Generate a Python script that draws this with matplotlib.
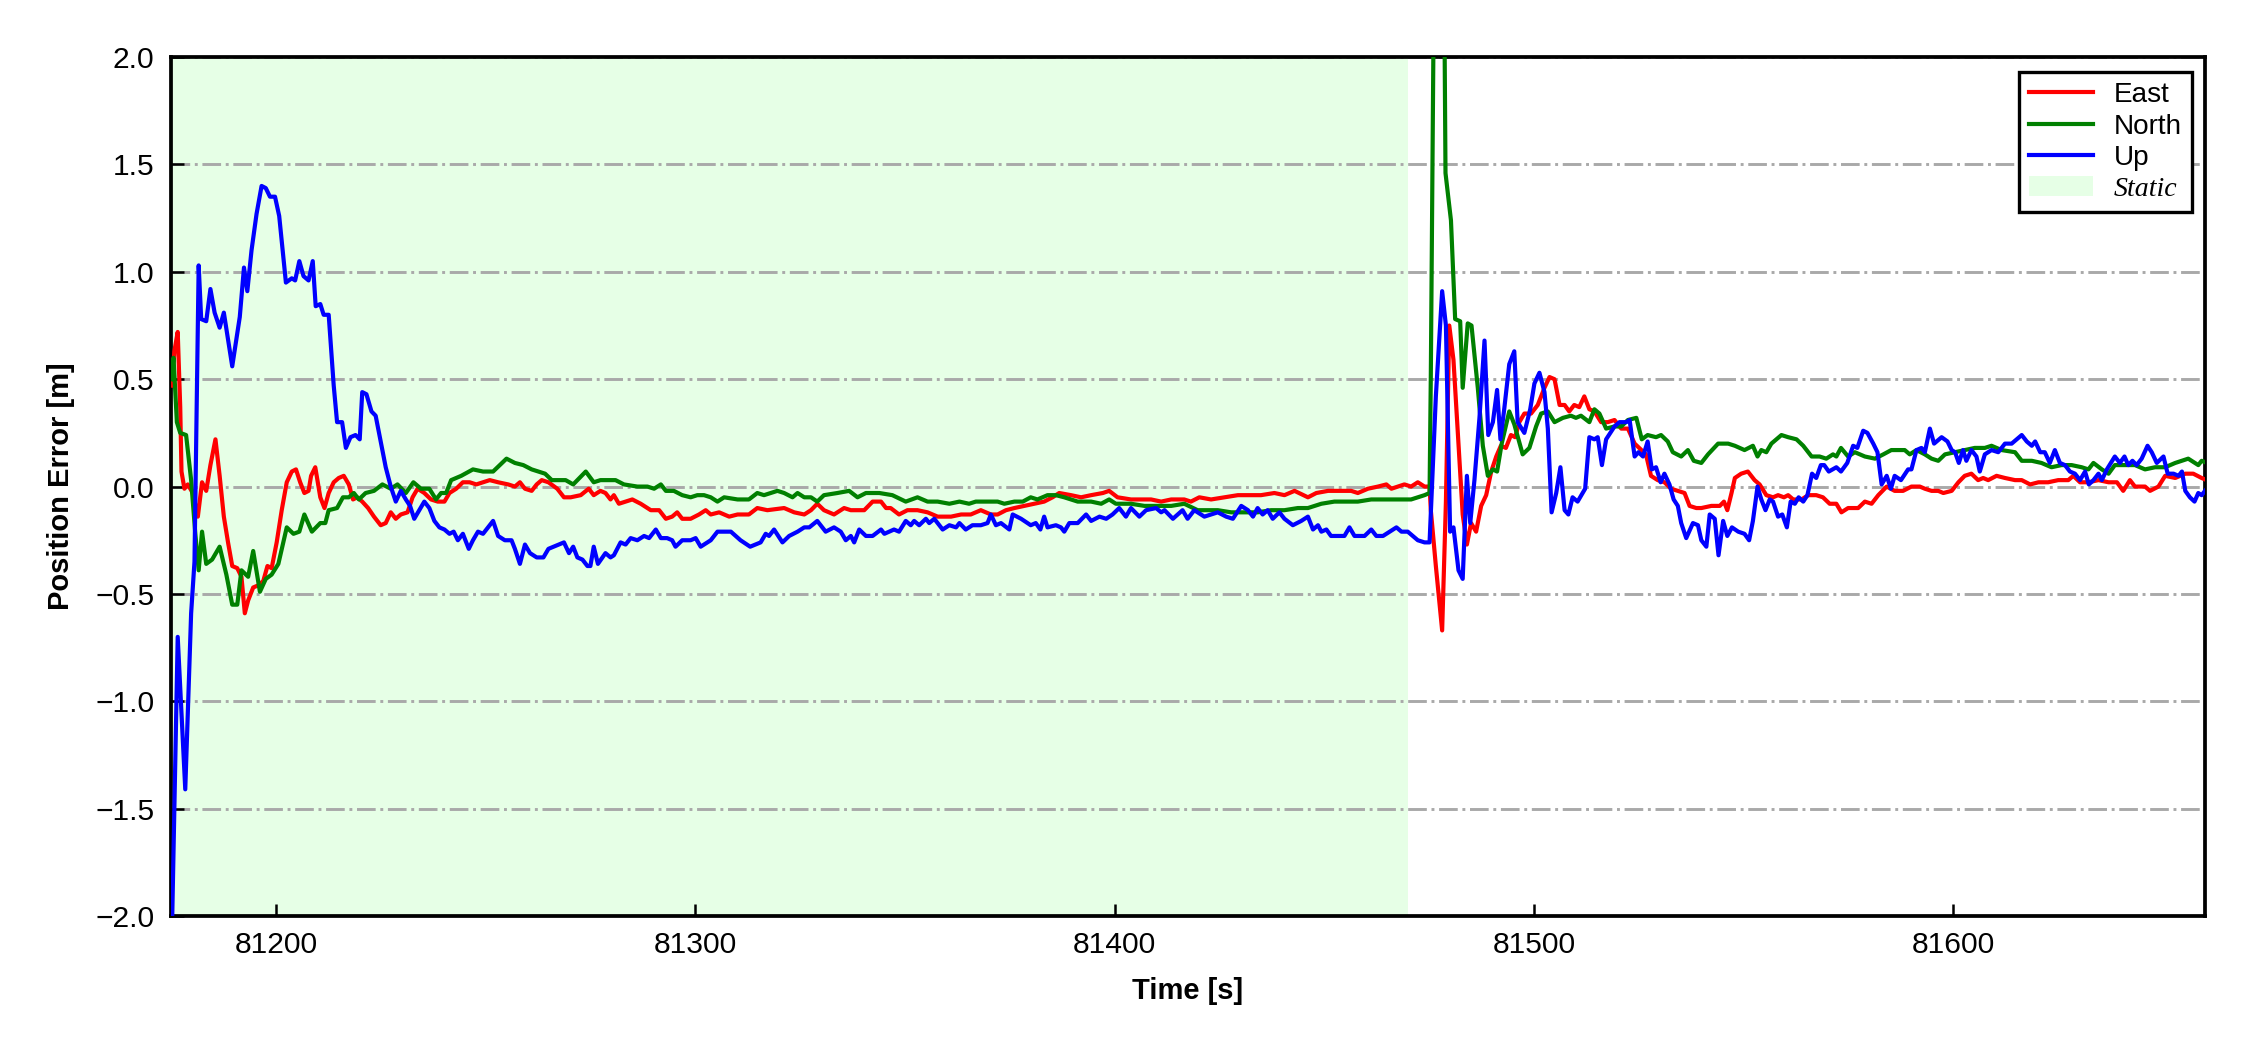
import matplotlib
matplotlib.use("Agg")
import matplotlib.pyplot as plt
from matplotlib.patches import Patch
from matplotlib.lines import Line2D

plt.rcParams['font.family'] = ['Liberation Sans', 'DejaVu Sans']

static_span = [81175.0, 81470.0]
x_limits = [81175, 81660]
y_limits = [-2.0, 2.0]
x_ticks = [81200, 81300, 81400, 81500, 81600]
y_ticks = [-2.0, -1.5, -1.0, -0.5, 0.0, 0.5, 1.0, 1.5, 2.0]

east_t = [81175.2, 81175.8, 81176.6, 81177.2, 81177.5, 81178.2, 81179.0, 81180.2, 81181.4, 81182.4,
          81183.4, 81184.4, 81185.6, 81186.6, 81187.6, 81188.6, 81189.6, 81190.8, 81191.8, 81192.6,
          81193.4, 81194.6, 81195.8, 81197.0, 81198.0, 81199.0, 81200.2, 81201.4, 81202.6, 81203.8,
          81204.8, 81205.8, 81206.8, 81207.8, 81208.4, 81209.4, 81210.6, 81211.6, 81212.6, 81213.8,
          81215.0, 81216.2, 81217.4, 81218.4, 81219.4, 81220.6, 81222.0, 81223.4, 81225.0, 81226.2,
          81227.4, 81228.6, 81229.8, 81231.4, 81232.6, 81233.8, 81235.4, 81237.0, 81238.6, 81240.2,
          81241.4, 81243.0, 81244.6, 81246.2, 81247.8, 81249.4, 81251.0, 81253.0, 81255.4, 81257.0,
          81258.2, 81259.4, 81261.0, 81262.2, 81263.4, 81265.0, 81267.1,
          81268.7, 81270.3, 81272.7, 81274.6, 81275.8, 81277.4, 81278.6, 81279.8, 81280.6, 81281.8,
          81283.4, 81285.0, 81287.0, 81289.4, 81291.4, 81293.0, 81294.5, 81295.7, 81296.9, 81298.9,
          81300.9, 81302.5, 81303.7, 81305.7, 81308.1, 81310.1, 81312.8, 81314.8, 81317.2, 81321.2,
          81323.6, 81326.0, 81327.6, 81329.1, 81330.7, 81333.1, 81335.5, 81337.1, 81340.3, 81342.3,
          81344.3, 81345.5, 81346.6, 81348.6, 81350.6, 81353.0, 81355.4, 81357.8, 81361.0, 81363.4,
          81365.7, 81368.1, 81370.5,
          81372.1, 81374.1, 81376.1, 81378.5, 81380.8, 81383.2, 81385.2, 81386.8, 81389.6, 81392.0,
          81394.4, 81397.2, 81398.7, 81400.7, 81403.9, 81406.3, 81408.7, 81411.1, 81413.5, 81416.6,
          81418.2, 81420.2, 81423.0, 81426.2, 81429.4, 81432.2, 81434.9, 81438.1, 81440.5, 81442.9,
          81446.1, 81448.1, 81450.9, 81454.0, 81456.4, 81458.0, 81460.4, 81462.8, 81464.8, 81466.0,
          81469.1, 81470.7, 81472.3, 81473.9, 81475.1,
          81475.4, 81476.6, 81478.1, 81479.0, 81479.8, 81480.8, 81482.0, 81483.0, 81484.0, 81485.0,
          81486.2, 81487.4, 81488.6, 81489.8, 81491.0, 81492.1, 81493.3, 81494.5, 81495.5, 81496.5,
          81497.7, 81499.3, 81500.9, 81502.5, 81503.7, 81504.9, 81506.1, 81507.3, 81508.4, 81509.6,
          81510.8, 81512.0, 81513.2, 81514.4, 81516.0, 81517.6, 81519.2, 81520.8, 81522.4, 81524.0,
          81525.6, 81526.7, 81527.9, 81529.5, 81531.1, 81532.7, 81534.3, 81535.9, 81537.1, 81538.7,
          81539.9, 81542.3, 81544.3, 81545.3, 81546.1, 81547.1, 81547.9, 81549.4, 81551.0, 81552.6,
          81553.8, 81555.4, 81557.0, 81558.2, 81559.6, 81560.6, 81561.8, 81563.8, 81565.4, 81567.3,
          81568.9, 81570.5, 81572.1, 81573.3, 81574.9, 81577.3, 81578.9, 81580.5, 81582.1, 81584.1,
          81586.0, 81588.0, 81590.0, 81592.0, 81593.2, 81594.8, 81596.4, 81597.6, 81599.6, 81601.2,
          81602.7, 81604.3, 81605.9, 81607.1, 81608.3, 81610.3, 81612.3, 81614.7, 81616.3, 81618.3,
          81620.3, 81622.6, 81625.0, 81627.4, 81628.6, 81630.2, 81632.2, 81634.6, 81637.0, 81639.0,
          81640.5, 81642.1, 81643.3, 81645.7, 81646.9, 81648.9, 81650.5, 81652.9, 81655.3, 81657.2,
          81659.2, 81660.4]
east_v = [0.47, 0.63, 0.72, 0.37, 0.07, -0.01, 0.01, -0.03, -0.14, 0.02,
          -0.02, 0.10, 0.22, 0.05, -0.14, -0.26, -0.37, -0.38, -0.42, -0.59,
          -0.53, -0.47, -0.46, -0.44, -0.37, -0.38, -0.26, -0.11, 0.02, 0.07,
          0.08, 0.02, -0.03, -0.02, 0.05, 0.09, -0.05, -0.10, -0.03, 0.02,
          0.04, 0.05, 0.01, -0.06, -0.05, -0.07, -0.10, -0.14, -0.18, -0.17,
          -0.12, -0.15, -0.13, -0.12, -0.05, -0.01, -0.03, -0.06, -0.07, -0.07,
          -0.03, -0.01, 0.02, 0.02, 0.01, 0.02, 0.03, 0.02, 0.01, 0.00,
          0.02, -0.01, -0.02, 0.01, 0.03, 0.02, -0.01,
          -0.05, -0.05, -0.04, -0.01, -0.04, -0.02, -0.03, -0.06, -0.04, -0.08,
          -0.07, -0.06, -0.08, -0.11, -0.11, -0.15, -0.14, -0.12, -0.15, -0.15,
          -0.13, -0.11, -0.13, -0.12, -0.14, -0.13, -0.13, -0.10, -0.11, -0.10,
          -0.12, -0.13, -0.11, -0.08, -0.11, -0.13, -0.10, -0.11, -0.11, -0.07,
          -0.07, -0.10, -0.10, -0.13, -0.11, -0.11, -0.12, -0.14, -0.14, -0.13,
          -0.13, -0.11, -0.13,
          -0.13, -0.11, -0.10, -0.09, -0.08, -0.07, -0.05, -0.03, -0.04, -0.05,
          -0.04, -0.03, -0.02, -0.05, -0.06, -0.06, -0.06, -0.07, -0.06, -0.06,
          -0.07, -0.05, -0.06, -0.05, -0.04, -0.04, -0.04, -0.03, -0.04, -0.02,
          -0.05, -0.03, -0.02, -0.02, -0.02, -0.03, -0.01, 0.00, 0.01, -0.01,
          0.01, 0.00, 0.02, 0.00, 0.00,
          -0.11, -0.37, -0.67, -0.07, 0.75, 0.59, 0.20, -0.13, -0.27, -0.17,
          -0.21, -0.09, -0.04, 0.07, 0.14, 0.19, 0.18, 0.24, 0.23, 0.30,
          0.34, 0.34, 0.38, 0.46, 0.51, 0.50, 0.38, 0.38, 0.35, 0.38,
          0.37, 0.42, 0.36, 0.35, 0.30, 0.30, 0.31, 0.27, 0.27, 0.20,
          0.17, 0.15, 0.05, 0.03, 0.02, -0.01, -0.02, -0.03, -0.09, -0.10,
          -0.10, -0.09, -0.09, -0.07, -0.11, -0.03, 0.04, 0.06, 0.07, 0.03,
          0.01, -0.04, -0.05, -0.04, -0.05, -0.04, -0.06, -0.06, -0.04, -0.04,
          -0.05, -0.08, -0.08, -0.12, -0.10, -0.10, -0.07, -0.08, -0.04, 0.00,
          -0.02, -0.02, 0.00, 0.00, -0.01, -0.02, -0.02, -0.03, -0.02, 0.02,
          0.05, 0.06, 0.03, 0.04, 0.03, 0.05, 0.04, 0.03, 0.03, 0.01,
          0.02, 0.02, 0.03, 0.03, 0.05, 0.02, 0.02, 0.03, 0.02, 0.02,
          -0.02, 0.03, 0.00, 0.00, -0.02, 0.00, 0.05, 0.04, 0.06, 0.06,
          0.04, 0.03]

north_t = [81175.0, 81175.6, 81176.4, 81177.2, 81178.6, 81179.8, 81180.8, 81181.6, 81182.4, 81183.4,
           81184.8, 81186.6, 81188.2, 81189.6, 81190.8, 81191.8, 81193.4, 81194.6, 81196.2, 81197.6,
           81199.0, 81200.6, 81202.6, 81204.2, 81205.6, 81206.8, 81208.6, 81210.6, 81211.8, 81212.6,
           81214.6, 81216.0, 81217.4, 81218.6, 81219.8, 81221.4, 81223.4, 81225.4, 81227.4, 81229.0,
           81231.0, 81232.8, 81234.6, 81236.6, 81238.2, 81239.4, 81240.6, 81241.8, 81244.2, 81247.0,
           81249.4, 81251.8, 81253.4, 81255.0, 81257.0, 81259.0, 81261.0, 81262.6, 81264.2, 81265.8,
           81269.1, 81270.9, 81273.9, 81275.8, 81277.4, 81279.4, 81281.0, 81283.0, 81286.2, 81288.6,
           81290.2, 81291.8, 81293.0, 81294.9, 81296.9, 81298.9, 81300.5, 81302.1, 81303.7, 81305.3,
           81306.9, 81310.1, 81312.8, 81314.8, 81316.4, 81319.6, 81321.2, 81323.2, 81324.4, 81326.0,
           81327.6, 81329.1, 81330.7, 81333.9, 81336.7, 81338.7, 81340.7, 81343.9, 81347.0, 81350.2,
           81353.0, 81355.4, 81357.8, 81360.6, 81363.0, 81365.3, 81366.9, 81368.9,
           81372.1, 81373.7, 81376.1, 81378.1, 81380.0, 81381.6, 81384.0, 81386.0, 81388.0, 81391.2,
           81394.4, 81396.8, 81398.7, 81400.3, 81403.9, 81407.1, 81410.3, 81413.5, 81416.6, 81419.8,
           81424.6, 81427.8, 81431.0, 81434.1, 81437.3, 81440.5, 81443.7, 81446.1, 81449.3, 81452.4,
           81455.6, 81458.0, 81461.2, 81464.4, 81467.6, 81470.7, 81472.3, 81473.9, 81475.1,
           81475.4, 81476.2, 81477.4, 81478.6, 81478.9, 81480.2, 81481.2, 81482.4, 81483.0, 81484.2,
           81485.1, 81486.6, 81487.8, 81489.0, 81490.2, 81491.2, 81492.3, 81494.1, 81495.3, 81497.3,
           81498.9, 81500.5, 81501.7, 81503.3, 81504.9, 81506.9, 81508.8, 81510.0, 81511.2, 81513.2,
           81514.4, 81515.6, 81517.2, 81519.2, 81520.8, 81522.4, 81524.4, 81525.7, 81527.1, 81529.1,
           81530.3, 81531.9, 81533.1, 81535.1, 81536.7, 81538.1,
           81539.9, 81541.5, 81543.9, 81546.3, 81547.9, 81550.2, 81552.2, 81553.3, 81554.2, 81555.4,
           81556.6, 81559.0, 81560.6, 81562.6, 81564.2, 81566.2, 81568.1, 81569.7, 81571.3, 81572.1,
           81573.2, 81574.9, 81576.5, 81578.9, 81581.3, 81583.3, 81585.2, 81588.4, 81589.6, 81591.2,
           81593.2, 81594.8, 81596.4, 81598.0, 81600.4, 81602.7, 81605.1, 81607.5, 81609.1, 81611.5,
           81614.7, 81616.3, 81618.7, 81621.0, 81623.4, 81625.8, 81628.2, 81630.6, 81632.2, 81633.4,
           81635.4, 81637.0, 81638.5, 81640.9, 81643.3, 81645.7, 81648.1, 81650.5, 81652.9, 81656.0,
           81658.4, 81659.2, 81660.4]
north_v = [0.50, 0.60, 0.30, 0.25, 0.24, 0.03, -0.22, -0.39, -0.21, -0.36,
           -0.34, -0.28, -0.41, -0.55, -0.55, -0.39, -0.42, -0.30, -0.49, -0.43,
           -0.41, -0.36, -0.19, -0.22, -0.21, -0.13, -0.21, -0.17, -0.17, -0.11,
           -0.10, -0.05, -0.05, -0.03, -0.06, -0.03, -0.02, 0.01, -0.01, 0.01,
           -0.03, 0.02, -0.01, -0.01, -0.06, -0.03, -0.03, 0.03, 0.05, 0.08,
           0.07, 0.07, 0.10, 0.13, 0.11, 0.10, 0.08, 0.07, 0.06, 0.03,
           0.03, 0.01, 0.07, 0.02, 0.03, 0.03, 0.03, 0.01, 0.00, 0.00,
           -0.01, 0.01, -0.02, -0.02, -0.04, -0.05, -0.04, -0.04, -0.05, -0.07,
           -0.05, -0.06, -0.06, -0.03, -0.04, -0.02, -0.03, -0.05, -0.03, -0.05,
           -0.05, -0.07, -0.04, -0.03, -0.02, -0.05, -0.03, -0.03, -0.04, -0.07,
           -0.05, -0.07, -0.07, -0.08, -0.07, -0.08, -0.07, -0.07,
           -0.07, -0.08, -0.07, -0.07, -0.05, -0.06, -0.04, -0.04, -0.05, -0.07,
           -0.07, -0.08, -0.06, -0.08, -0.08, -0.09, -0.09, -0.09, -0.08, -0.11,
           -0.11, -0.12, -0.12, -0.12, -0.11, -0.11, -0.10, -0.10, -0.08, -0.07,
           -0.07, -0.07, -0.06, -0.06, -0.06, -0.06, -0.05, -0.04, -0.03,
           0.52, 2.50, 2.90, 2.30, 1.46, 1.24, 0.78, 0.77, 0.46, 0.76,
           0.75, 0.46, 0.19, 0.05, 0.08, 0.07, 0.20, 0.35, 0.29, 0.15,
           0.18, 0.28, 0.34, 0.35, 0.30, 0.32, 0.33, 0.32, 0.33, 0.30,
           0.36, 0.34, 0.27, 0.28, 0.28, 0.31, 0.32, 0.22, 0.24, 0.23,
           0.24, 0.21, 0.16, 0.14, 0.17, 0.12,
           0.11, 0.15, 0.20, 0.20, 0.19, 0.17, 0.19, 0.14, 0.17, 0.16,
           0.20, 0.24, 0.23, 0.22, 0.19, 0.14, 0.14, 0.13, 0.15, 0.14,
           0.18, 0.14, 0.16, 0.14, 0.13, 0.15, 0.17, 0.17, 0.15, 0.17,
           0.15, 0.13, 0.12, 0.15, 0.16, 0.17, 0.18, 0.18, 0.19, 0.17,
           0.16, 0.12, 0.12, 0.11, 0.09, 0.10, 0.10, 0.09, 0.08, 0.11,
           0.08, 0.06, 0.10, 0.10, 0.10, 0.08, 0.09, 0.09, 0.11, 0.13,
           0.10, 0.12, 0.11]

up_t = [81175.0, 81176.6, 81178.4, 81179.8, 81180.6, 81181.6, 81182.2, 81183.4, 81184.4, 81185.4,
        81186.6, 81187.6, 81189.6, 81191.4, 81192.4, 81193.2, 81194.2, 81195.4, 81196.6, 81197.6,
        81198.6, 81199.8, 81200.8, 81202.4, 81203.8, 81204.6, 81205.6, 81206.6, 81207.8, 81208.8,
        81209.5, 81210.6, 81211.4, 81212.6, 81213.8, 81214.6, 81215.8, 81216.7, 81217.8, 81219.0,
        81220.0, 81220.6, 81221.6, 81222.8, 81223.8, 81225.0, 81226.2, 81227.4, 81228.6, 81229.8,
        81231.0, 81232.0, 81233.0, 81234.2, 81235.4, 81236.6, 81237.8, 81239.0, 81240.2, 81241.4,
        81242.4, 81243.4, 81244.6, 81246.0, 81247.0, 81248.2, 81249.4, 81250.6, 81251.8, 81253.0,
        81254.6, 81256.2, 81257.0, 81258.2, 81259.4, 81260.6, 81262.2, 81263.8, 81265.0,
        81268.7, 81269.9, 81270.9, 81271.9, 81273.1, 81274.3, 81275.0, 81275.8, 81276.8, 81278.6,
        81279.8, 81280.6, 81282.2, 81283.4, 81284.6, 81286.2, 81287.8, 81289.0, 81290.6, 81291.8,
        81293.3, 81294.5, 81295.3, 81296.9, 81298.9, 81300.1, 81301.3, 81303.7, 81305.3, 81308.5,
        81310.8, 81313.1, 81315.6, 81316.8, 81317.6, 81318.8, 81320.8, 81322.4, 81324.4, 81326.0,
        81327.2, 81329.1, 81331.1, 81333.1, 81334.7, 81335.9, 81337.1, 81337.9, 81339.1, 81340.7,
        81342.3, 81344.3, 81345.1, 81347.4, 81348.6, 81350.2, 81351.4, 81352.2, 81353.4, 81355.0,
        81355.8, 81357.0, 81359.0, 81360.6, 81362.2, 81363.0, 81364.5, 81366.1, 81368.1, 81369.7,
        81370.5, 81371.7, 81372.9, 81374.9, 81375.7, 81377.7, 81380.0, 81381.2, 81382.3, 81383.2,
        81384.0, 81386.0, 81387.2, 81388.0, 81389.2, 81391.2, 81393.2, 81394.4, 81396.4, 81398.0,
        81399.5, 81401.1, 81402.7, 81403.9, 81405.9, 81407.5, 81409.9, 81411.1, 81411.9, 81413.9,
        81416.2, 81417.4, 81419.0, 81421.4, 81424.6, 81426.6, 81428.2, 81430.2, 81431.8, 81433.0,
        81434.1, 81435.3, 81436.5, 81437.7, 81439.3, 81440.5, 81442.5, 81444.5, 81446.1, 81447.3,
        81448.5, 81449.3, 81450.5, 81451.6, 81454.8, 81456.0, 81457.2, 81459.6, 81461.2, 81462.4,
        81464.0, 81467.2, 81468.4, 81469.9, 81472.3, 81473.9, 81475.1,
        81476.6, 81478.1, 81479.0, 81480.0, 81480.8, 81482.0, 81483.0, 81484.0, 81484.8, 81485.8,
        81487.0, 81488.2, 81489.1, 81490.2, 81491.2, 81492.0, 81492.9, 81494.1, 81495.3, 81496.1,
        81497.7, 81499.1, 81500.1, 81501.3, 81502.5, 81503.3, 81504.2, 81505.3, 81506.3, 81507.3,
        81508.2, 81509.2, 81510.4, 81512.2, 81513.2, 81514.4, 81515.2, 81516.2, 81517.2, 81519.2,
        81520.4, 81522.0, 81522.8, 81524.0, 81524.9, 81526.0, 81527.1, 81528.1, 81529.1, 81530.2,
        81531.1, 81532.3, 81533.3, 81534.3, 81535.1, 81536.3, 81537.9, 81539.1,
        81539.9, 81541.1, 81541.9, 81543.1, 81544.0, 81545.1, 81546.1, 81547.2, 81548.7, 81550.2,
        81551.3, 81552.2, 81553.3, 81554.2, 81555.2, 81556.2, 81557.0, 81558.2, 81559.2, 81560.3,
        81561.2, 81562.2, 81563.1, 81564.2, 81565.2, 81566.3, 81567.3, 81568.4, 81569.2, 81570.3,
        81572.1, 81573.2, 81574.7, 81576.1, 81577.1, 81578.5, 81579.5, 81580.9, 81581.9, 81582.9,
        81584.1, 81585.1, 81586.0, 81587.5, 81589.2, 81590.0, 81591.2, 81592.4, 81593.2, 81594.4,
        81595.4, 81597.2, 81598.6, 81599.6, 81600.4, 81601.3, 81602.3, 81603.1, 81604.3, 81605.5,
        81606.3, 81607.5, 81609.1, 81610.7, 81612.3, 81613.9, 81615.1, 81616.3, 81617.5, 81618.7,
        81619.5, 81620.7, 81621.8, 81623.0, 81624.2, 81625.4, 81626.6, 81627.8, 81629.0, 81630.2,
        81631.4, 81632.3, 81633.4, 81634.6, 81635.4, 81636.6, 81638.5, 81639.7, 81640.8, 81641.7,
        81642.7, 81643.7, 81644.9, 81646.3, 81647.3, 81648.5, 81650.1, 81651.1, 81652.5, 81653.7,
        81654.5, 81655.3, 81656.4, 81657.5, 81658.4, 81659.2, 81660.4]
up_v = [-2.30, -0.70, -1.41, -0.59, -0.35, 1.03, 0.78, 0.77, 0.92, 0.81,
        0.74, 0.81, 0.56, 0.79, 1.02, 0.91, 1.10, 1.27, 1.40, 1.39,
        1.35, 1.35, 1.26, 0.95, 0.97, 0.96, 1.05, 0.98, 0.96, 1.05,
        0.84, 0.85, 0.80, 0.80, 0.47, 0.30, 0.30, 0.18, 0.23, 0.24,
        0.22, 0.44, 0.43, 0.35, 0.33, 0.21, 0.09, 0.00, -0.07, -0.02,
        -0.06, -0.09, -0.15, -0.11, -0.07, -0.10, -0.16, -0.19, -0.20, -0.22,
        -0.21, -0.25, -0.22, -0.29, -0.25, -0.21, -0.22, -0.19, -0.16, -0.23,
        -0.25, -0.25, -0.29, -0.36, -0.27, -0.31, -0.33, -0.33, -0.29,
        -0.26, -0.31, -0.28, -0.33, -0.34, -0.37, -0.37, -0.28, -0.36, -0.31,
        -0.33, -0.32, -0.26, -0.27, -0.24, -0.25, -0.23, -0.24, -0.20, -0.24,
        -0.24, -0.25, -0.28, -0.25, -0.25, -0.24, -0.28, -0.25, -0.21, -0.21,
        -0.25, -0.28, -0.26, -0.22, -0.23, -0.20, -0.26, -0.23, -0.21, -0.19,
        -0.19, -0.16, -0.21, -0.19, -0.21, -0.25, -0.23, -0.26, -0.20, -0.23,
        -0.23, -0.20, -0.22, -0.20, -0.21, -0.16, -0.18, -0.16, -0.18, -0.15,
        -0.17, -0.15, -0.20, -0.18, -0.19, -0.17, -0.20, -0.18, -0.18, -0.17,
        -0.13, -0.18, -0.17, -0.20, -0.13, -0.15, -0.18, -0.17, -0.20, -0.14,
        -0.19, -0.18, -0.19, -0.21, -0.17, -0.17, -0.13, -0.16, -0.14, -0.15,
        -0.13, -0.10, -0.14, -0.10, -0.14, -0.11, -0.10, -0.12, -0.11, -0.15,
        -0.11, -0.15, -0.11, -0.14, -0.12, -0.14, -0.15, -0.09, -0.11, -0.14,
        -0.10, -0.13, -0.11, -0.15, -0.12, -0.15, -0.18, -0.16, -0.14, -0.20,
        -0.18, -0.21, -0.20, -0.23, -0.23, -0.19, -0.23, -0.23, -0.20, -0.23,
        -0.23, -0.19, -0.21, -0.21, -0.25, -0.26, -0.26,
        0.42, 0.91, 0.75, -0.21, -0.19, -0.39, -0.43, 0.05, -0.17, 0.03,
        0.32, 0.68, 0.24, 0.30, 0.45, 0.22, 0.36, 0.57, 0.63, 0.30,
        0.25, 0.36, 0.48, 0.53, 0.44, 0.27, -0.12, -0.03, 0.09, -0.11,
        -0.13, -0.05, -0.07, -0.01, 0.23, 0.22, 0.23, 0.10, 0.22, 0.28,
        0.30, 0.30, 0.31, 0.14, 0.16, 0.14, 0.21, 0.08, 0.09, 0.02,
        0.06, 0.01, -0.06, -0.09, -0.17, -0.24, -0.17, -0.18,
        -0.25, -0.28, -0.13, -0.15, -0.32, -0.16, -0.23, -0.19, -0.21, -0.22,
        -0.25, -0.16, 0.00, -0.06, -0.11, -0.06, -0.07, -0.14, -0.13, -0.19,
        -0.07, -0.08, -0.05, -0.07, -0.04, 0.06, 0.04, 0.10, 0.10, 0.07,
        0.09, 0.07, 0.11, 0.19, 0.18, 0.26, 0.25, 0.20, 0.16, 0.01,
        0.05, -0.01, 0.05, 0.03, 0.08, 0.08, 0.17, 0.18, 0.16, 0.27,
        0.20, 0.23, 0.21, 0.17, 0.16, 0.11, 0.17, 0.12, 0.17, 0.14,
        0.07, 0.15, 0.17, 0.16, 0.20, 0.20, 0.22, 0.24, 0.21, 0.19,
        0.21, 0.16, 0.16, 0.11, 0.17, 0.11, 0.10, 0.07, 0.06, 0.03,
        0.07, 0.01, 0.03, 0.06, 0.03, 0.08, 0.14, 0.11, 0.14, 0.10,
        0.12, 0.10, 0.13, 0.19, 0.16, 0.11, 0.14, 0.06, 0.06, 0.05,
        0.07, -0.02, -0.05, -0.07, -0.03, -0.04, -0.01]

static_color = '#e6ffe6'

fig = plt.figure(figsize=(7.5, 3.5), dpi=300)
ax = fig.add_axes([0.076, 0.1276, 0.904, 0.818])

ax.axvspan(static_span[0], static_span[1], color=static_color, lw=0, zorder=0)
ax.grid(axis='y', color='#a9a9a9', linestyle='-.', linewidth=0.7, zorder=1)

ax.plot(east_t, east_v, color='red', lw=1.0, zorder=3)
ax.plot(north_t, north_v, color='green', lw=1.0, zorder=3)
ax.plot(up_t, up_v, color='blue', lw=1.0, zorder=3)

ax.set_xlim(x_limits)
ax.set_ylim(y_limits)
ax.set_xticks(x_ticks)
ax.set_yticks(y_ticks)
ax.tick_params(direction='in', length=3, width=0.6, labelsize=7.2)
ax.tick_params(axis='x', pad=3.5)
ax.tick_params(axis='y', pad=4)
ax.tick_params(axis='both', which='both', top=False, right=False)
for s in ax.spines.values():
    s.set_linewidth(0.9)

ax.set_xlabel('Time [s]', fontsize=7, fontweight='bold', labelpad=4.5)
ax.set_ylabel('Position Error [m]', fontsize=7, fontweight='bold', labelpad=4.8)

handles = [Line2D([], [], color='red', lw=1.0, label='East'),
           Line2D([], [], color='green', lw=1.0, label='North'),
           Line2D([], [], color='blue', lw=1.0, label='Up'),
           Patch(facecolor=static_color, edgecolor='none', label='Static')]
leg = ax.legend(handles=handles, loc='upper right', fontsize=6.7, frameon=True, fancybox=False,
                edgecolor='black', framealpha=1, labelspacing=0.19, handlelength=2.3,
                handletextpad=0.75, borderpad=0.36, borderaxespad=0,
                bbox_to_anchor=(0.9936, 0.9825))
leg.get_frame().set_linewidth(0.8)
leg.get_texts()[3].set_fontfamily('Liberation Serif')
leg.get_texts()[3].set_fontstyle('italic')

fig.savefig('out.png', dpi=300)
